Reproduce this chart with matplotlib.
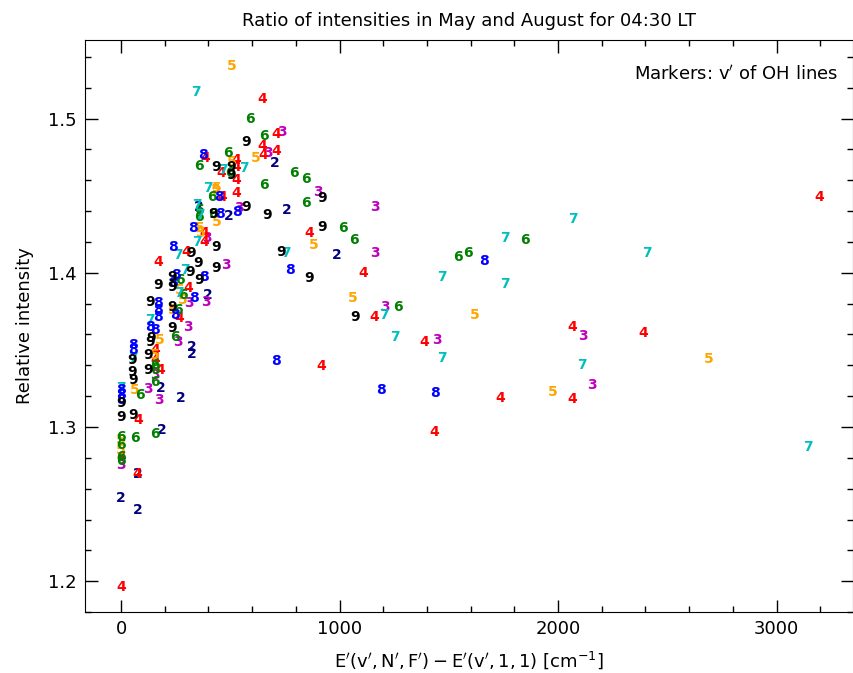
import matplotlib
matplotlib.use("Agg")
import matplotlib.pyplot as plt
from matplotlib.ticker import MultipleLocator

# energy above lowest level [cm-1] and May/August ratio, one pair of lists per v'
e2 = [705, 760, 989, 494, 357, 398, 325, 325, 183, 275, 188, 78, 0, 78]
r2 = [1.4714, 1.4409, 1.4117, 1.4370, 1.4429, 1.3857, 1.3520, 1.3475, 1.3253, 1.3188, 1.2981, 1.2695, 1.2540, 1.2461]

e3 = [737, 673, 902, 1163, 1163, 540, 394, 481, 389, 311, 307, 261, 124, 174, 0, 1208, 1446, 2115, 2156, 156]
r3 = [1.4916, 1.4779, 1.4526, 1.4429, 1.4130, 1.4422, 1.4227, 1.4052, 1.3812, 1.3806, 1.3649, 1.3552, 1.3247, 1.3175,
      1.2753, 1.3780, 1.3565, 1.3591, 1.3273, 1.3338]

e4 = [645, 709, 645, 709, 650, 526, 526, 458, 526, 526, 384, 462, 380, 380, 298, 169, 307, 265, 860, 1108, 1158, 1387,
      915, 1433, 1735, 2064, 2064, 2389, 3195, 0, 73, 0, 156, 178, 78, 156]
r4 = [1.5130, 1.4903, 1.4825, 1.4792, 1.4766, 1.4734, 1.4688, 1.4649, 1.4604, 1.4519, 1.4747, 1.4494, 1.4260, 1.4201,
      1.4136, 1.4071, 1.3903, 1.3708, 1.4260, 1.4000, 1.3715, 1.3552, 1.3397, 1.2968, 1.3188, 1.3182, 1.3649, 1.3610,
      1.4494, 1.1961, 1.2695, 1.2806, 1.3435, 1.3370, 1.3045, 1.3500]

e5 = [508, 618, 508, 439, 439, 366, 883, 1062, 1620, 1977, 2691, 435, 270, 284, 238, 178, 156, 0, 0, 64, 362]
r5 = [1.5338, 1.4747, 1.4721, 1.4552, 1.4331, 1.4260, 1.4182, 1.3838, 1.3728, 1.3227, 1.3442, 1.4540, 1.3890, 1.3825,
      1.3760, 1.3565, 1.3468, 1.2851, 1.2916, 1.3240, 1.4292]

e6 = [590, 655, 792, 847, 847, 655, 490, 357, 499, 416, 357, 421, 1016, 1066, 1268, 1542, 1588, 1849, 247, 156, 156,
      64, 0, 0, 0, 0, 357, 270, 284, 261, 156, 156, 87]
r6 = [1.5000, 1.4890, 1.4649, 1.4610, 1.4455, 1.4571, 1.4779, 1.4695, 1.4649, 1.4494, 1.4364, 1.4383, 1.4292, 1.4214,
      1.3780, 1.4104, 1.4130, 1.4214, 1.3584, 1.3292, 1.2955, 1.2929, 1.2935, 1.2883, 1.2806, 1.2780, 1.4409, 1.3955,
      1.3857, 1.3760, 1.3403, 1.3370, 1.3208]

e7 = [343, 563, 467, 398, 348, 348, 261, 265, 133, 755, 1204, 1254, 1469, 1469, 1758, 1758, 2069, 2110, 2408, 3144,
      55, 0, 293, 362]
r7 = [1.5175, 1.4682, 1.4669, 1.4552, 1.4442, 1.4201, 1.4117, 1.3870, 1.3695, 1.4130, 1.3728, 1.3584, 1.3448, 1.3974,
      1.4227, 1.3929, 1.4351, 1.3403, 1.4130, 1.2870, 1.3448, 1.3253, 1.4020, 1.4377]

e8 = [375, 449, 453, 531, 330, 238, 380, 334, 169, 169, 247, 133, 773, 709, 1190, 1437, 1661, 0, 0, 55, 55, 156, 169,
      238, 252, 0]
r8 = [1.4766, 1.4494, 1.4383, 1.4396, 1.4292, 1.4169, 1.3974, 1.3838, 1.3806, 1.3715, 1.3728, 1.3649, 1.4020, 1.3429,
      1.3240, 1.3221, 1.4078, 1.3240, 1.3208, 1.3500, 1.3532, 1.3630, 1.3760, 1.3935, 1.3987, 1.3175]

e9 = [572, 435, 503, 503, 668, 920, 920, 572, 421, 435, 732, 860, 1071, 320, 352, 435, 316, 357, 233, 233, 169, 133,
      233, 233, 137, 133, 124, 124, 50, 50, 55, 0, 0, 55]
r9 = [1.4851, 1.4688, 1.4688, 1.4636, 1.4377, 1.4487, 1.4299, 1.4429, 1.4383, 1.4169, 1.4136, 1.3968, 1.3715, 1.4130,
      1.4065, 1.4033, 1.4007, 1.3955, 1.3974, 1.3909, 1.3922, 1.3812, 1.3780, 1.3643, 1.3578, 1.3552, 1.3468, 1.3370,
      1.3435, 1.3357, 1.3305, 1.3156, 1.3065, 1.3078]

series = [
    ('2', 'navy', e2, r2),
    ('3', 'm', e3, r3),
    ('4', 'r', e4, r4),
    ('5', 'orange', e5, r5),
    ('6', 'g', e6, r6),
    ('7', 'c', e7, r7),
    ('8', 'b', e8, r8),
    ('9', 'k', e9, r9),
]

fig = plt.figure(figsize=(8.54, 6.73), dpi=100)
ax = fig.add_axes([0.0995, 0.0906, 0.8993, 0.85])

for label, color, xs, ys in series:
    for x, y in zip(xs, ys):
        ax.text(x, y, label, color=color, fontsize=10, fontweight='bold',
                ha='center', va='center')

ax.set_xlim(-165, 3350)
ax.set_ylim(1.18, 1.551)
ax.xaxis.set_major_locator(MultipleLocator(1000))
ax.xaxis.set_minor_locator(MultipleLocator(200))
ax.yaxis.set_major_locator(MultipleLocator(0.1))
ax.yaxis.set_minor_locator(MultipleLocator(0.02))
ax.tick_params(which='both', direction='in', top=True, right=True, labelsize=13, pad=6)
ax.tick_params(which='major', length=9, width=1)
ax.tick_params(which='minor', length=4.5, width=1)

ax.set_title('Ratio of intensities in May and August for 04:30 LT', fontsize=13, pad=10)
ax.set_xlabel(r"$\mathrm{E'(v',N',F') - E'(v',1,1)}$ [cm$^{-1}$]", fontsize=13, labelpad=8)
ax.set_ylabel('Relative intensity', fontsize=13, labelpad=10)
ax.text(0.98, 0.94, r"Markers: $\mathrm{v'}$ of OH lines", transform=ax.transAxes,
        ha='right', va='center', fontsize=13)

fig.savefig('out.png', dpi=100)
